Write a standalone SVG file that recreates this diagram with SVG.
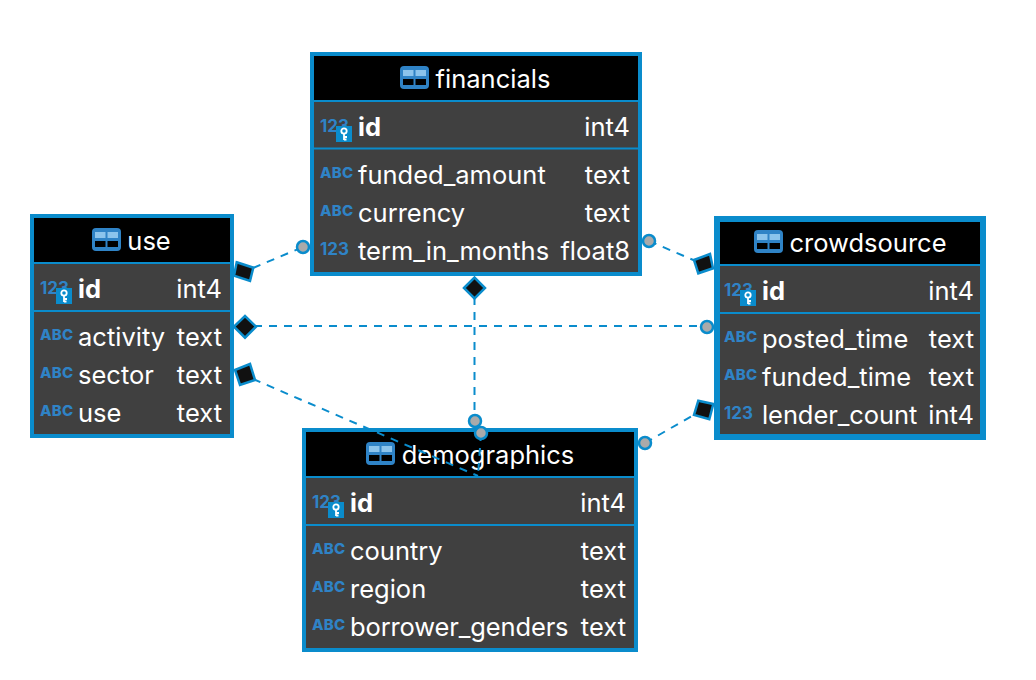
<svg xmlns="http://www.w3.org/2000/svg" width="1036" height="680" viewBox="0 0 1036 680">
<style>
text{font-family:Inter,"Liberation Sans",sans-serif;fill:#fff;font-size:25.500px}
.b{font-weight:700}
.t{text-anchor:middle}
.r{text-anchor:end}
text.ty{font-weight:800;font-size:15px;fill:#2f83c6;letter-spacing:.3px}
text.nu{font-weight:700;font-size:17px;fill:#2f83c6}
.body{fill:#404040}
.bd{fill:none;stroke:#0a8ccc}
.hd{fill:#000}
.dv{stroke:#0a8ccc;stroke-width:2}
.cn{fill:none;stroke:#0a8ccc;stroke-width:2;stroke-dasharray:8 7}
.dia{fill:#111;stroke:#0a8ccc;stroke-width:2.500}
.cir{fill:#aaa;stroke:#0a8ccc;stroke-width:2.500}
</style>
<defs>
<g id="tbl"><rect width="29" height="23" rx="4" fill="#2f83c6"/><rect x="3" y="4" width="10.500" height="6" fill="#8cc4ec"/><rect x="15.500" y="4" width="10.500" height="6" fill="#8cc4ec"/><rect x="3" y="13" width="10.500" height="6" fill="#000"/><rect x="15.500" y="13" width="10.500" height="6" fill="#000"/></g>
<g id="key"><rect width="16" height="16" fill="#0a8ccc"/><circle cx="8" cy="5" r="2.700" fill="none" stroke="#fff" stroke-width="1.800"/><path d="M8 8V14M8 11H11M8 13.500H10.500" fill="none" stroke="#fff" stroke-width="1.800"/></g>
</defs>
<g id="financials">
<rect class="body" x="312" y="54" width="328" height="220"/><rect class="hd" x="312" y="54" width="328" height="47"/>
<path class="dv" d="M312 101H640M312 148.500H640"/>
<rect class="bd" stroke-width="4" x="312" y="54" width="328" height="220"/>
<use href="#tbl" x="400" y="66"/><text class="t" x="493" y="88">financials</text>
<text class="nu" x="320" y="132">123</text><use href="#key" x="336" y="126"/><text class="b" x="358" y="136">id</text><text class="r" x="630" y="136">int4</text>
<text class="ty" x="320" y="178">ABC</text><text x="358" y="184">funded_amount</text><text class="r" x="630" y="184">text</text>
<text class="ty" x="320" y="216">ABC</text><text x="358" y="222">currency</text><text class="r" x="630" y="222">text</text>
<text class="nu" x="320" y="255">123</text><text x="358" y="260">term_in_months</text><text class="r" x="630" y="260">float8</text>
</g>
<g id="use">
<rect class="body" x="32" y="216" width="200" height="220"/><rect class="hd" x="32" y="216" width="200" height="47"/>
<path class="dv" d="M32 263H232M32 311H232"/>
<rect class="bd" stroke-width="4" x="32" y="216" width="200" height="220"/>
<use href="#tbl" x="92" y="228"/><text class="t" x="149" y="250">use</text>
<text class="nu" x="40" y="294">123</text><use href="#key" x="56" y="288"/><text class="b" x="78" y="298">id</text><text class="r" x="222" y="298">int4</text>
<text class="ty" x="40" y="340">ABC</text><text x="78" y="346">activity</text><text class="r" x="222" y="346">text</text>
<text class="ty" x="40" y="378">ABC</text><text x="78" y="384">sector</text><text class="r" x="222" y="384">text</text>
<text class="ty" x="40" y="416">ABC</text><text x="78" y="422">use</text><text class="r" x="222" y="422">text</text>
</g>
<g id="crowdsource">
<rect class="body" x="717" y="219" width="266" height="218"/><rect class="hd" x="717" y="219" width="266" height="46"/>
<path class="dv" d="M717 265H983M717 313H983"/>
<rect class="bd" stroke-width="6" x="717" y="219" width="266" height="218"/>
<use href="#tbl" x="754" y="230"/><text class="t" x="868" y="252">crowdsource</text>
<text class="nu" x="724" y="296">123</text><use href="#key" x="740" y="290"/><text class="b" x="762" y="300">id</text><text class="r" x="974" y="300">int4</text>
<text class="ty" x="724" y="342">ABC</text><text x="762" y="348">posted_time</text><text class="r" x="974" y="348">text</text>
<text class="ty" x="724" y="380">ABC</text><text x="762" y="386">funded_time</text><text class="r" x="974" y="386">text</text>
<text class="nu" x="724" y="419">123</text><text x="762" y="424" letter-spacing="-.08">lender_count</text><text class="r" x="974" y="424">int4</text>
</g>
<g id="demographics">
<rect class="body" x="304" y="430" width="332" height="220"/><rect class="hd" x="304" y="430" width="332" height="47"/>
<path class="dv" d="M304 477H636M304 525H636"/>
<rect class="bd" stroke-width="4" x="304" y="430" width="332" height="220"/>
<use href="#tbl" x="366" y="442"/><text class="t" x="488" y="464">demographics</text>
<text class="nu" x="312" y="508">123</text><use href="#key" x="328" y="502"/><text class="b" x="350" y="512">id</text><text class="r" x="626" y="512">int4</text>
<text class="ty" x="312" y="554">ABC</text><text x="350" y="560">country</text><text class="r" x="626" y="560">text</text>
<text class="ty" x="312" y="592">ABC</text><text x="350" y="598">region</text><text class="r" x="626" y="598">text</text>
<text class="ty" x="312" y="630">ABC</text><text x="350" y="636" letter-spacing="-.13">borrower_genders</text><text class="r" x="626" y="636">text</text>
</g>
<g id="connectors">
<path class="cn" d="M253 268L303 247"/>
<path class="cn" d="M649 241L698 262"/>
<path class="cn" d="M254 326H707"/>
<path class="cn" d="M474.500 297V421"/>
<path class="cn" d="M253 379L478 476"/>
<path class="cn" d="M481 433L478 476"/>
<path class="cn" d="M645 443L697 413"/>
<path class="dia" d="M236.700 262.300L253.300 267.700L250 281L234 275.700Z"/>
<path class="dia" d="M234 326.700L245 316L256 326.700L245 337.700Z"/>
<path class="dia" d="M235 370L250 364L255 380L240 385Z"/>
<path class="dia" d="M464 288L474.500 277.500L485 288L474.500 298.500Z"/>
<path class="dia" d="M694 260L710 254L713 268.300L698.300 273.300Z"/>
<path class="dia" d="M698.300 400.700L713.300 404L709.300 419.300L694 415Z"/>
<circle class="cir" cx="303" cy="247" r="6"/>
<circle class="cir" cx="649" cy="241" r="6"/>
<circle class="cir" cx="707" cy="327" r="6"/>
<circle class="cir" cx="475" cy="421" r="6"/>
<circle class="cir" cx="481" cy="433" r="6"/>
<circle class="cir" cx="645" cy="443" r="6"/>
</g>
</svg>
